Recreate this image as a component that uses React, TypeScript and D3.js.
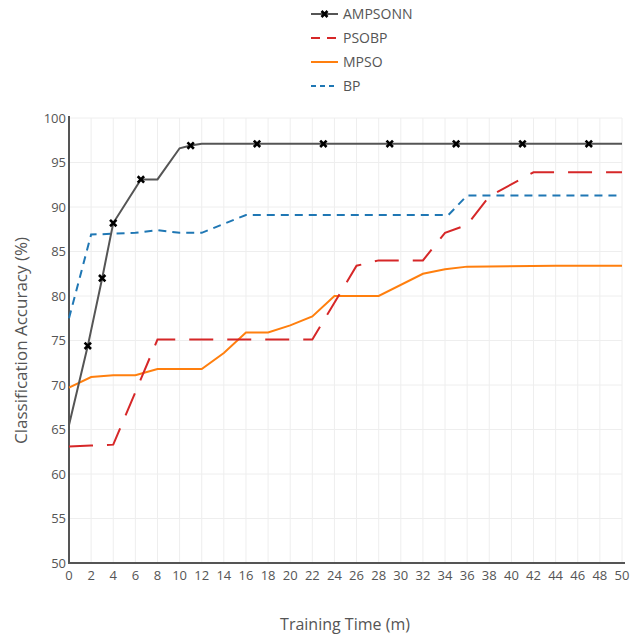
import React from "react";
import * as d3 from "d3";

const ampsonnX = [0, 1.7, 3, 4, 6.5, 8, 10, 11, 12, 17, 23, 29, 35, 41, 47, 50];
const ampsonnY = [65.5, 74.4, 82.0, 88.2, 93.1, 93.1, 96.6, 96.9, 97.1, 97.1, 97.1, 97.1, 97.1, 97.1, 97.1, 97.1];
const ampsonnMarkerX = [1.7, 3, 4, 6.5, 11, 17, 23, 29, 35, 41, 47];
const ampsonnMarkerY = [74.4, 82.0, 88.2, 93.1, 96.9, 97.1, 97.1, 97.1, 97.1, 97.1, 97.1];

const psobpX = [0, 2, 4, 8, 12, 16, 22, 26, 28, 32, 34, 36, 38, 42, 50];
const psobpY = [63.1, 63.2, 63.3, 75.1, 75.1, 75.1, 75.1, 83.4, 84.0, 84.0, 87.1, 88.0, 91.2, 93.9, 93.9];

const mpsoX = [0, 2, 4, 6, 8, 12, 14, 16, 18, 20, 22, 24, 28, 32, 34, 36, 44, 50];
const mpsoY = [69.7, 70.9, 71.1, 71.1, 71.8, 71.8, 73.6, 75.9, 75.9, 76.7, 77.7, 80.0, 80.0, 82.5, 83.0, 83.3, 83.4, 83.4];

const bpX = [0, 2, 4, 6, 8, 10, 12, 16, 34.3, 36, 50];
const bpY = [77.5, 86.9, 87.0, 87.1, 87.4, 87.1, 87.1, 89.1, 89.1, 91.3, 91.3];

const xTicks = d3.range(0, 51, 2);
const yTicks = d3.range(50, 101, 5);

const seriesNames = ["AMPSONN", "PSOBP", "MPSO", "BP"];

export default function App() {
  const width = 640;
  const height = 635;
  const x = d3.scaleLinear().domain([0, 50]).range([69, 622]);
  const y = d3.scaleLinear().domain([50, 100]).range([563, 118]);
  const line = d3
    .line<[number, number]>()
    .x((d) => x(d[0]))
    .y((d) => y(d[1]));
  const zip = (a: number[], b: number[]) => a.map((v, i) => [v, b[i]] as [number, number]);

  const series = [
    { name: seriesNames[0], pts: zip(ampsonnX, ampsonnY), color: "#555555", dash: "", width: 2 },
    { name: seriesNames[1], pts: zip(psobpX, psobpY), color: "#d62728", dash: "24,14", width: 2 },
    { name: seriesNames[2], pts: zip(mpsoX, mpsoY), color: "#ff7f0e", dash: "", width: 2 },
    { name: seriesNames[3], pts: zip(bpX, bpY), color: "#1f77b4", dash: "8,6", width: 2 },
  ];
  const legendDash = ["", "9,7", "", "5,4"];
  const font = "'Open Sans', sans-serif";
  const markers = zip(ampsonnMarkerX, ampsonnMarkerY);

  const cross = (cx: number, cy: number, s: number, key: string) => (
    <path
      key={key}
      d={`M${cx - s},${cy - s}L${cx + s},${cy + s}M${cx - s},${cy + s}L${cx + s},${cy - s}`}
      stroke="#000"
      strokeWidth={2.6}
    />
  );

  return (
    <svg
      width={width}
      height={height}
      style={{ position: "absolute", left: 0, top: 0, background: "#fff" }}
      fontFamily={font}
    >
      {/* grid */}
      {xTicks.map((t) => (
        <line key={"gx" + t} x1={x(t)} x2={x(t)} y1={y(100)} y2={y(50)} stroke="#eeeeee" strokeWidth={1} />
      ))}
      {yTicks.map((t) => (
        <line key={"gy" + t} x1={x(0)} x2={x(50)} y1={y(t)} y2={y(t)} stroke="#eeeeee" strokeWidth={1} />
      ))}
      {/* axes */}
      <line x1={x(0)} x2={x(0)} y1={y(100) - 2} y2={y(50) + 1} stroke="#555" strokeWidth={2} />
      <line x1={x(0) - 1} x2={x(50) + 3} y1={y(50)} y2={y(50)} stroke="#555" strokeWidth={2} />
      {/* tick labels */}
      {yTicks.map((t) => (
        <text
          key={"ty" + t}
          x={x(0) - 3}
          y={y(t)}
          dy="0.35em"
          textAnchor="end"
          fontSize={13}
          fill="#555"
        >
          {t}
        </text>
      ))}
      {xTicks.map((t) => (
        <text key={"tx" + t} x={x(t)} y={y(50) + 17} textAnchor="middle" fontSize={13} fill="#555">
          {t}
        </text>
      ))}
      {/* axis titles */}
      <text x={345} y={630} textAnchor="middle" fontSize={16} fill="#555">
        Training Time (m)
      </text>
      <text
        transform={`translate(21,${(y(50) + y(100)) / 2}) rotate(-90)`}
        textAnchor="middle"
        dy="0.35em"
        fontSize={17}
        fill="#555"
      >
        Classification Accuracy (%)
      </text>
      {/* lines */}
      {series
        .slice()
        .reverse()
        .map((s) => (
          <path
            key={s.name}
            d={line(s.pts) || ""}
            fill="none"
            stroke={s.color}
            strokeWidth={s.width}
            strokeDasharray={s.dash}
          />
        ))}
      {markers.map((m, i) => cross(x(m[0]), y(m[1]), 3.2, "m" + i))}
      {/* legend */}
      {series.map((s, i) => {
        const ly = 14 + i * 24;
        return (
          <g key={"lg" + s.name}>
            <line
              x1={311}
              x2={338}
              y1={ly}
              y2={ly}
              stroke={s.color}
              strokeWidth={2}
              strokeDasharray={legendDash[i]}
            />
            {i === 0 && cross(324.5, ly, 3, "lgm")}
            <text x={343} y={ly} dy="0.35em" fontSize={14} fill="#555">
              {s.name}
            </text>
          </g>
        );
      })}
    </svg>
  );
}
